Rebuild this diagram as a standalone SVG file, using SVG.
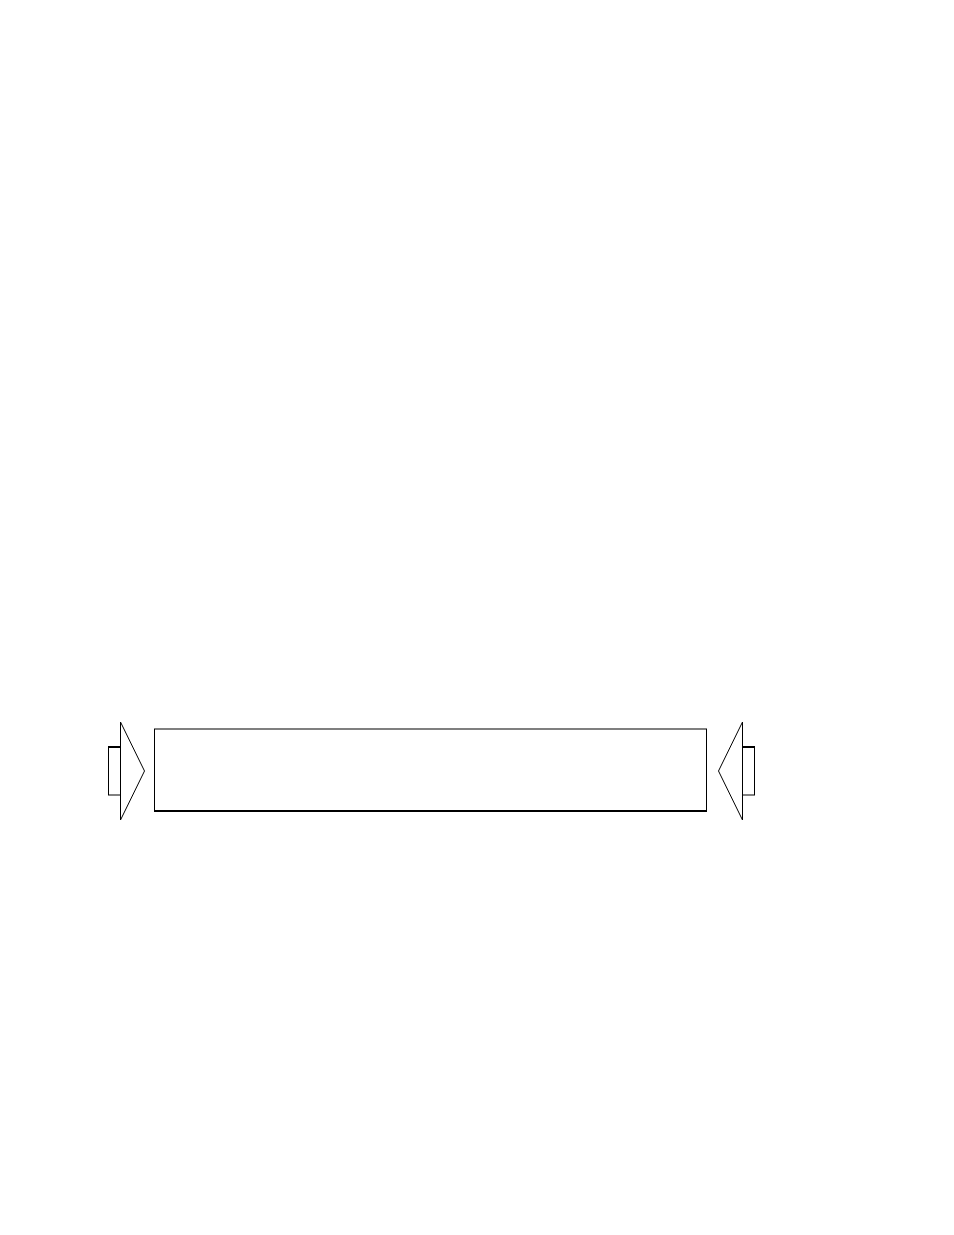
<svg xmlns="http://www.w3.org/2000/svg" width="954" height="1235" viewBox="0 0 954 1235">
<style>
.s{fill:#fff;stroke:#000;stroke-width:1}
.t{fill:none;stroke:#000;stroke-width:2}
</style>
<rect width="954" height="1235" fill="#fff"/>
<g id="left-arrow">
<rect class="s" x="108.5" y="747" width="12" height="48"/>
<line class="t" x1="108" y1="747" x2="120.5" y2="747"/>
<polygon class="s" points="120.5,722 144.5,771 120.5,820"/>
</g>
<g id="main-box">
<rect class="s" x="154.5" y="729" width="552" height="82"/>
<line class="t" x1="154" y1="811" x2="707" y2="811"/>
</g>
<g id="right-arrow">
<rect class="s" x="742.5" y="747" width="12" height="48"/>
<line class="t" x1="742" y1="747" x2="755" y2="747"/>
<polygon class="s" points="742.5,722 718.5,771 742.5,820"/>
</g>
<g id="connectors"></g>
</svg>
